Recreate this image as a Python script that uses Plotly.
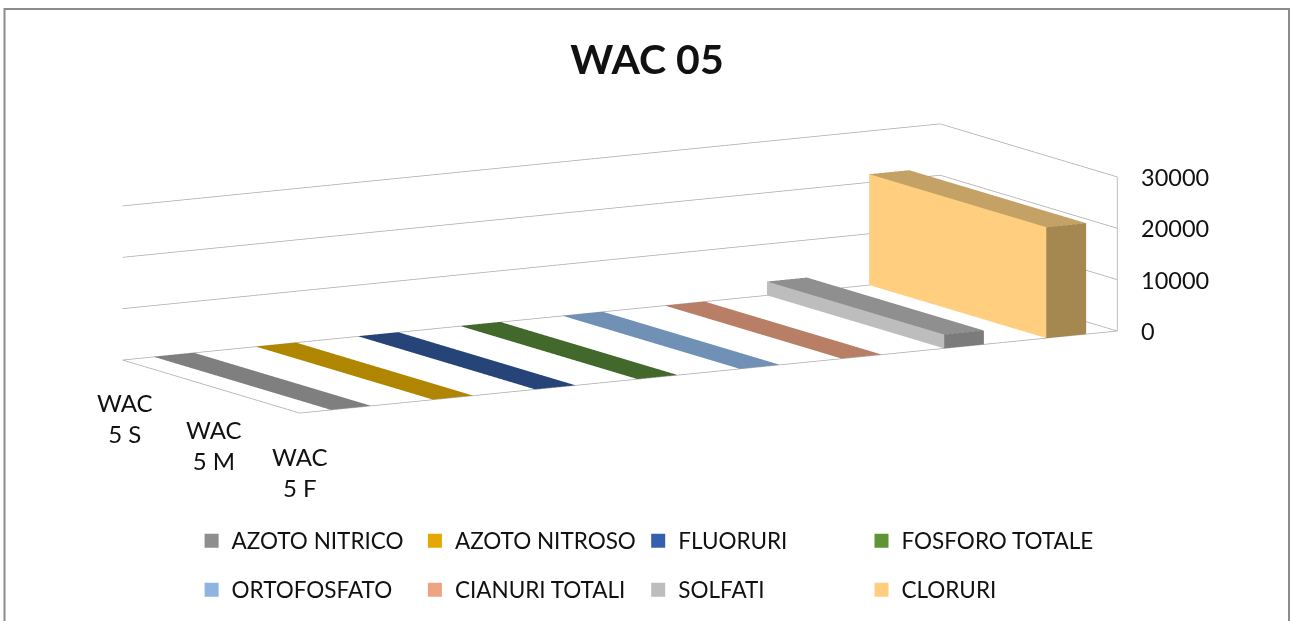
import numpy as np
import plotly.graph_objects as go

title = "WAC 05"
categories = ["WAC<br>5 S", "WAC<br>5 M", "WAC<br>5 F"]
series = ["AZOTO NITRICO", "AZOTO NITROSO", "FLUORURI", "FOSFORO TOTALE",
          "ORTOFOSFATO", "CIANURI TOTALI", "SOLFATI", "CLORURI"]
azoto_nitrico = [40, 40, 40]
azoto_nitroso = [20, 20, 20]
fluoruri = [40, 40, 40]
fosforo_totale = [40, 40, 40]
ortofosfato = [40, 40, 40]
cianuri_totali = [20, 20, 20]
solfati = [2700, 2700, 2700]
cloruri = [21600, 21600, 21600]
values = [azoto_nitrico, azoto_nitroso, fluoruri, fosforo_totale,
          ortofosfato, cianuri_totali, solfati, cloruri]
z_ticks = [0, 10000, 20000, 30000]

legend_colors = ["#8E8E8E", "#E5A800", "#3560AE", "#5E9436",
                 "#8FB4E0", "#EEA383", "#BDBDBD", "#FFCF7F"]
top_colors = ["#7F7F7F", "#B08500", "#264478", "#43682B",
              "#7090B5", "#B87F66", "#8F8F8F", "#C4A265"]
long_colors = ["#8E8E8E", "#C39500", "#2D5290", "#4E7A32",
               "#8FB4E0", "#D0907A", "#BDBDBD", "#FFCF7F"]
side_colors = ["#6C6C6C", "#8A6A00", "#1E3660", "#345022",
               "#5A7594", "#966753", "#7B7B7B", "#A58850"]
legend_slot = ["legend", "legend", "legend", "legend3",
               "legend2", "legend2", "legend2", "legend2"]
TEXT = "#111111"
GRID = "#ABABAB"
FONT = "Lato"
W, H = 1290, 621

# axonometric view: on-page vectors (x right, y up) of the three box edges
vx = np.array([817.0, 82.0]); vy = np.array([-177.0, 53.0]); vz = np.array([0.0, 154.0])
vecs = [vx, vy, vz]
th = [np.arctan2(v[1], v[0]) for v in vecs]
A = np.array([[np.cos(2*t) for t in th], [np.sin(2*t) for t in th], [1, 1, 1]])
m2 = np.linalg.solve(A, [0, 0, 2])
view = np.array([-np.sqrt(1-m2[0]), -np.sqrt(1-m2[1]), np.sqrt(1-m2[2])])
S = 310.3
aspect = [np.linalg.norm(v)/(np.sqrt(m)*S) for v, m in zip(vecs, m2)]
DIST = 2.0
SHIFT_X, SHIFT_Y = 25.0, 42.0
fwd = -view
right = np.cross(fwd, [0, 0, 1]); right /= np.linalg.norm(right)
up = np.cross(right, fwd)
center = (right*SHIFT_X - up*SHIFT_Y)/S
eye = center + view*DIST

BAR = 0.39
fig = go.Figure()
for i, name in enumerate(series):
    X, Y, Z, I, J, K, FC = [], [], [], [], [], [], []
    x0, x1 = i+0.5-BAR/2, i+0.5+BAR/2
    vals = values[i]
    c = 0
    while c < len(vals):
        e = c
        while e+1 < len(vals) and vals[e+1] == vals[c]:
            e += 1
        y0, y1 = 3-(e+1), 3-c
        val = vals[c]
        n = len(X)
        X += [x0, x1, x1, x0, x0, x1, x1, x0]
        Y += [y0, y0, y1, y1, y0, y0, y1, y1]
        Z += [0, 0, 0, 0, val, val, val, val]
        faces = [((4, 5, 6), top_colors[i]), ((4, 6, 7), top_colors[i]),
                 ((0, 4, 7), long_colors[i]), ((0, 7, 3), long_colors[i]),
                 ((0, 1, 5), side_colors[i]), ((0, 5, 4), side_colors[i])]
        for f, col in faces:
            I.append(n+f[0]); J.append(n+f[1]); K.append(n+f[2]); FC.append(col)
        c = e+1
    fig.add_trace(go.Mesh3d(x=X, y=Y, z=Z, i=I, j=J, k=K, facecolor=FC, flatshading=True,
                            lighting=dict(ambient=1, diffuse=0, specular=0, fresnel=0),
                            name=name, hoverinfo="name", showlegend=False))

# walls and floor outline
lx, ly, lz = [], [], []
for t in z_ticks:
    lx += [0, 8, 8, None]; ly += [3, 3, 0, None]; lz += [t, t, t, None]
lx += [8, 8, None, 0, 0, 8, None]; ly += [0, 0, None, 3, 0, 0, None]
lz += [z_ticks[0], z_ticks[-1], None, 0, 0, 0, None]
fig.add_trace(go.Scatter3d(x=lx, y=ly, z=lz, mode="lines", line=dict(color=GRID, width=1.5),
                           showlegend=False, hoverinfo="skip"))

# legend entries
for i, name in enumerate(series):
    fig.add_trace(go.Scatter(x=[None], y=[None], mode="markers", name=name,
                             marker=dict(symbol="square", size=14, color=legend_colors[i]),
                             legend=legend_slot[i]))

annots = [dict(x=8, y=0, z=t, text=str(t), showarrow=False, xanchor="left", xshift=22,
               font=dict(family=FONT, size=23.5, color=TEXT)) for t in z_ticks]
cat_dx = [-27, 2.5, 29.5]
cat_dy = [-17, -26.5, -36]
annots += [dict(x=0, y=3-c-0.5, z=0, text=lab, showarrow=False, xanchor="center", yanchor="top",
                xshift=cat_dx[c], yshift=cat_dy[c], font=dict(family=FONT, size=24, color=TEXT))
           for c, lab in enumerate(categories)]

hidden = dict(visible=False, showgrid=False, zeroline=False, showticklabels=False, showspikes=False)
leg = dict(orientation="h", xanchor="left", yanchor="middle", xref="container", yref="container",
           entrywidth=178.3, entrywidthmode="pixels", itemwidth=30, bgcolor="rgba(0,0,0,0)",
           font=dict(family=FONT, size=22.5, color=TEXT), traceorder="normal")
fig.update_layout(
    width=W, height=H, autosize=False,
    margin=dict(l=0, r=0, t=0, b=0, autoexpand=False),
    paper_bgcolor="white", plot_bgcolor="rgba(0,0,0,0)",
    title=dict(text="<b>"+title+"</b>", x=647/W, y=1-60/H, xanchor="center", yanchor="middle",
               font=dict(family=FONT, size=41, color=TEXT)),
    xaxis=dict(visible=False), yaxis=dict(visible=False),
    showlegend=True,
    legend=dict(leg, x=191.6/W, y=1-541/H),
    legend2=dict(leg, x=191.6/W, y=1-590/H),
    legend3=dict(leg, x=(191.6+3*223.3)/W, y=1-541/H, entrywidth=230),
    scene=dict(
        domain=dict(x=[0, 1], y=[0, 1]),
        xaxis=dict(hidden, range=[0, 8]), yaxis=dict(hidden, range=[0, 3]), zaxis=dict(hidden, range=[0, 30000]),
        aspectmode="manual", aspectratio=dict(x=aspect[0], y=aspect[1], z=aspect[2]),
        camera=dict(eye=dict(x=eye[0], y=eye[1], z=eye[2]), center=dict(x=center[0], y=center[1], z=center[2]),
                    up=dict(x=0, y=0, z=1), projection=dict(type="orthographic")),
        bgcolor="white", annotations=annots),
    shapes=[dict(type="path", xref="paper", yref="paper",
                 path=f"M {4.5/W} -0.1 L {4.5/W} {1-9/H} L {1289/W} {1-9/H} L {1289/W} -0.1",
                 line=dict(color="#8C8C8C", width=2))],
)
fig.write_html("out.html", config=dict(displayModeBar=False),
               post_script="document.body.style.margin='0';document.documentElement.style.overflow='hidden';")
